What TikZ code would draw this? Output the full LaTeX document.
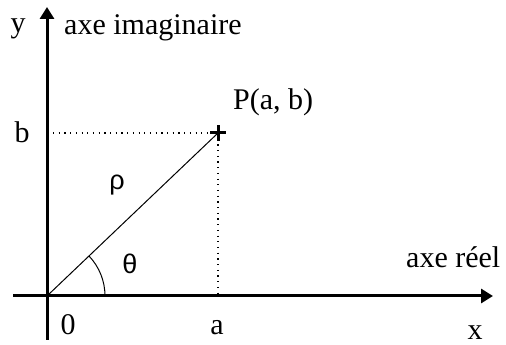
\documentclass[tikz,border=0pt]{standalone}
\usepackage{fontspec}
\setmainfont{Liberation Serif}
\newfontfamily\greekfont{Liberation Sans}
\usetikzlibrary{arrows.meta,calc}
\tikzset{
  axis/.style={line width=3pt,-{Triangle[length=12pt,width=14pt]}},
  guide/.style={line width=1.2pt,dash pattern=on 1.2pt off 4.5pt},
  radius line/.style={line width=1pt},
  lbl/.style={inner sep=0pt,font=\fontsize{30}{33}\selectfont},
  glbl/.style={inner sep=0pt,font=\fontsize{27}{30}\selectfont\greekfont}
}
\begin{document}
\begin{tikzpicture}[x=1pt,y=1pt]
\useasboundingbox (0,0) rectangle (506,345);
\coordinate (O) at (47,49);
\coordinate (ybot) at (47,5);
\coordinate (ytop) at (47,338);
\coordinate (xleft) at (13,49);
\coordinate (xright) at (493,49);
\coordinate (P) at (218,212);
\coordinate (Pb) at (53,212);
\coordinate (Pa) at (218,49);
\draw[axis] (ybot) -- (ytop);
\draw[axis] (xleft) -- (xright);
\draw[guide] (Pb) -- (P);
\draw[guide] (P) -- (Pa);
\draw[radius line] (O) -- (P);
\draw[line width=1pt] (105,49) arc[start angle=0,end angle=43.6,radius=58];
\draw[line width=3pt] ($(P)+(-8,0)$) -- ($(P)+(8,0)$);
\draw[line width=3pt] ($(P)+(0,-8)$) -- ($(P)+(0,8)$);
\node[lbl,anchor=base] (ylab) at (18,312) {y};
\node[lbl,anchor=base west] (im) at (64,310) {axe imaginaire};
\node[lbl,anchor=base west] (Plab) at (233,235) {P(a, b)};
\node[lbl,anchor=base] (blab) at (22,202) {b};
\node[glbl] (rho) at (117,160) {ρ};
\node[glbl] (theta) at (130,81) {θ};
\node[lbl,anchor=base west] (re) at (406,77) {axe réel};
\node[lbl,anchor=base] (zero) at (68,10) {0};
\node[lbl,anchor=base] (alab) at (217,10) {a};
\node[lbl,anchor=base] (xlab) at (475,5) {x};
\end{tikzpicture}
\end{document}
